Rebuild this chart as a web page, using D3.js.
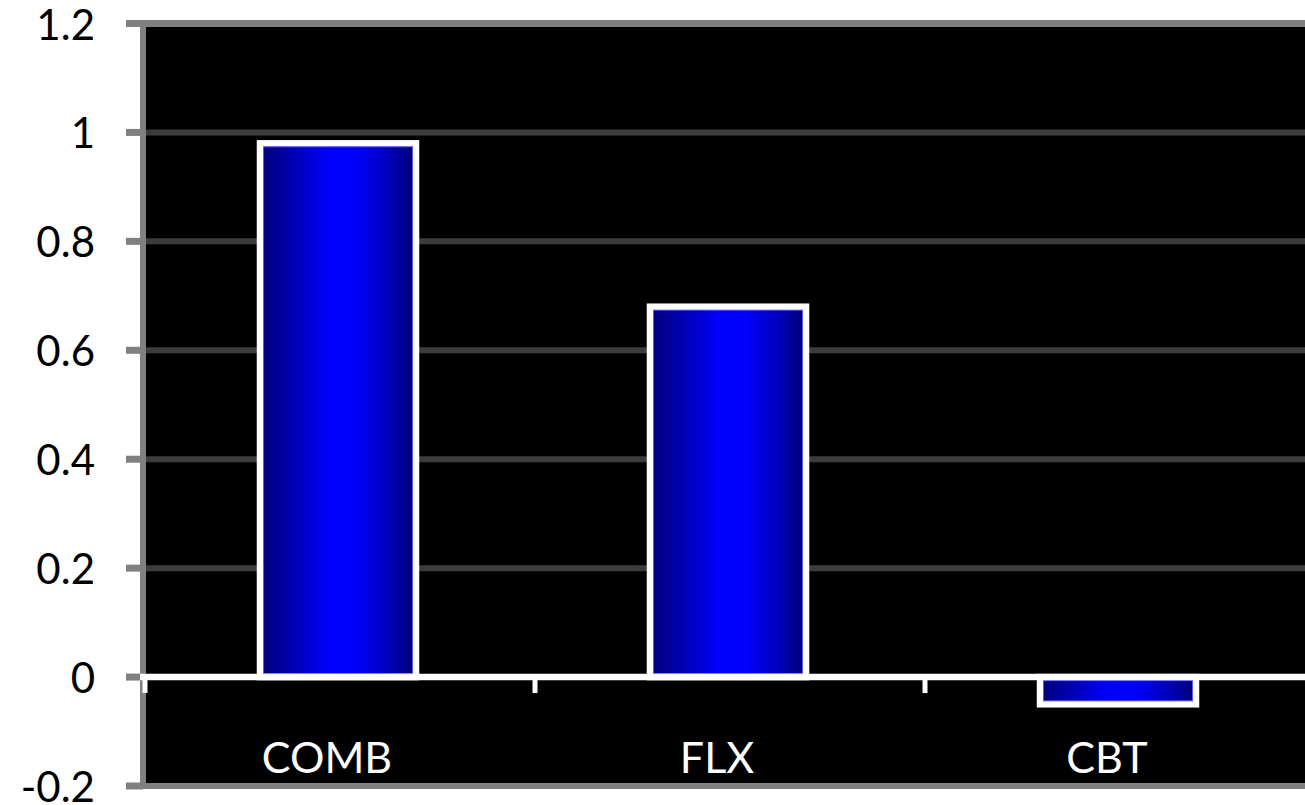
<!DOCTYPE html>
<html>
<head>
<meta charset="utf-8">
<script src="https://cdn.jsdelivr.net/npm/d3@7"></script>
<style>
  html, body { margin: 0; padding: 0; background: #ffffff; overflow: hidden; }
  svg { display: block; }
</style>
</head>
<body>
<svg id="chart" width="1305" height="805"></svg>
<script>
const categories = ["COMB", "FLX", "CBT"];
const values = [0.98, 0.68, -0.05];
const tickValues = [-0.2, 0, 0.2, 0.4, 0.6, 0.8, 1.0, 1.2];
const tickLabels = ["-0.2", "0", "0.2", "0.4", "0.6", "0.8", "1", "1.2"];
const gridValues = [0.2, 0.4, 0.6, 0.8, 1.0];

const svg = d3.select("#chart");
const font = "Lato, 'Open Sans', sans-serif";

const x = d3.scaleBand().domain(categories).range([143, 1313]).paddingInner(0.6).paddingOuter(0.3);
const step = x.step();
const bandStart = x.range()[0];
const y = d3.scaleLinear().domain([-0.2, 1.2]).range([786, 23.5]);

// gradient
const defs = svg.append("defs");
const grad = defs.append("linearGradient").attr("id", "barGrad")
  .attr("x1", "0%").attr("x2", "100%").attr("y1", "0%").attr("y2", "0%");
[["0%", "#000078"], ["20%", "#0000b0"], ["45%", "#0000ff"], ["60%", "#0000ff"], ["85%", "#0000b0"], ["100%", "#000070"]]
  .forEach(([o, c]) => grad.append("stop").attr("offset", o).attr("stop-color", c));

// plot background
svg.append("rect").attr("x", 143).attr("y", y(1.2)).attr("width", 1313 - 143).attr("height", y(-0.2) - y(1.2)).attr("fill", "#000");

// gridlines
svg.selectAll("line.grid").data(gridValues).join("line").attr("class", "grid")
  .attr("x1", 146).attr("x2", 1313)
  .attr("y1", d => y(d)).attr("y2", d => y(d))
  .attr("stroke", "#3c3c3c").attr("stroke-width", 6);

// frame (top, bottom, left)
svg.append("line").attr("x1", 126).attr("x2", 1313).attr("y1", y(1.2)).attr("y2", y(1.2)).attr("stroke", "#808080").attr("stroke-width", 7);
svg.append("line").attr("x1", 126).attr("x2", 1313).attr("y1", y(-0.2)).attr("y2", y(-0.2)).attr("stroke", "#808080").attr("stroke-width", 6);
svg.append("line").attr("x1", 143).attr("x2", 143).attr("y1", y(1.2) - 3.5).attr("y2", y(-0.2) + 3).attr("stroke", "#808080").attr("stroke-width", 6);

// y ticks
svg.selectAll("line.ytick").data(tickValues).join("line").attr("class", "ytick")
  .attr("x1", 126).attr("x2", 143)
  .attr("y1", d => y(d)).attr("y2", d => y(d))
  .attr("stroke", "#808080").attr("stroke-width", 7);

// y tick labels
svg.selectAll("text.ylab").data(tickValues).join("text").attr("class", "ylab")
  .attr("x", 95).attr("y", d => y(d) + 16)
  .attr("text-anchor", "end")
  .attr("font-family", font).attr("font-size", 42).attr("fill", "#000")
  .text((d, i) => tickLabels[i]);

// bars
const bars = svg.selectAll("g.bar").data(categories.map((c, i) => ({c, v: values[i]}))).join("g").attr("class", "bar");
bars.append("rect")
  .attr("x", d => x(d.c))
  .attr("y", d => y(Math.max(0, d.v)))
  .attr("width", x.bandwidth())
  .attr("height", d => Math.abs(y(d.v) - y(0)))
  .attr("fill", "url(#barGrad)")
  .attr("stroke", "#ffffff").attr("stroke-width", 6.5);
bars.append("rect")
  .attr("x", d => x(d.c) + 3.5)
  .attr("y", d => y(Math.max(0, d.v)) + 3.5)
  .attr("width", x.bandwidth() - 7)
  .attr("height", d => Math.max(0, Math.abs(y(d.v) - y(0)) - 7))
  .attr("fill", "none")
  .attr("stroke", "#5a5aff").attr("stroke-width", 1);

// zero line
svg.append("line").attr("x1", 140).attr("x2", 1313).attr("y1", y(0)).attr("y2", y(0)).attr("stroke", "#ffffff").attr("stroke-width", 6.5);
// category boundary ticks
const boundaries = d3.range(categories.length + 1).map(i => bandStart + i * step);
svg.selectAll("line.xtick").data(boundaries).join("line").attr("class", "xtick")
  .attr("x1", d => d + 2).attr("x2", d => d + 2)
  .attr("y1", y(0)).attr("y2", y(0) + 16)
  .attr("stroke", "#ffffff").attr("stroke-width", 5);

// category labels
svg.selectAll("text.xlab").data(categories).join("text").attr("class", "xlab")
  .attr("x", d => x(d) + x.bandwidth() / 2 - 11)
  .attr("y", 773)
  .attr("text-anchor", "middle")
  .attr("font-family", font).attr("font-size", 43).attr("fill", "#ffffff")
  .text(d => d);
</script>
</body>
</html>
